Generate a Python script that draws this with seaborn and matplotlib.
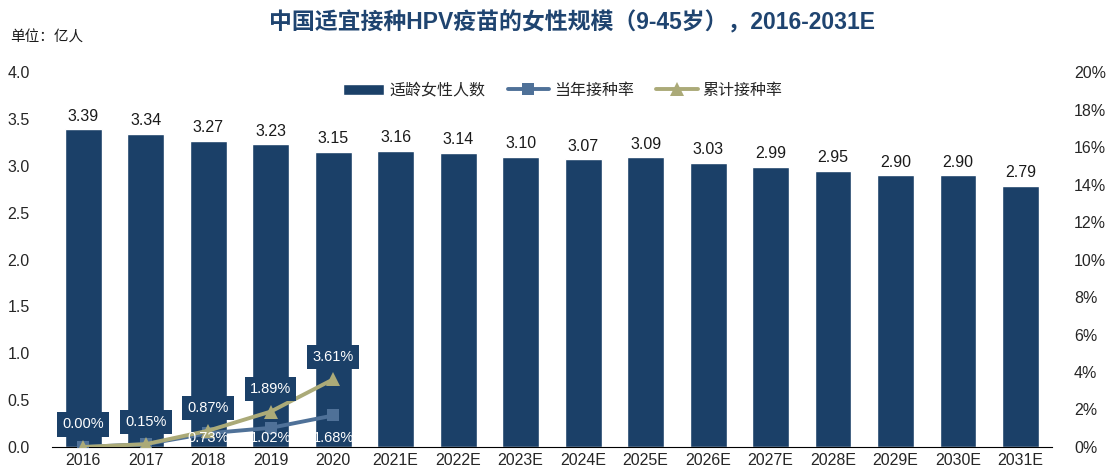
import pandas as pd
import matplotlib.pyplot as plt
import seaborn as sns

# Data
years = ['2016', '2017', '2018', '2019', '2020', '2021E', '2022E', '2023E', '2024E',
         '2025E', '2026E', '2027E', '2028E', '2029E', '2030E', '2031E']
women = [3.39, 3.34, 3.27, 3.23, 3.15, 3.16, 3.14, 3.10, 3.07, 3.09, 3.03, 2.99,
         2.95, 2.90, 2.90, 2.79]
rate_years = ['2016', '2017', '2018', '2019', '2020']
annual_rate = [0.00, 0.15, 0.73, 1.02, 1.68]
cum_rate = [0.00, 0.15, 0.87, 1.89, 3.61]

bar_color = '#1B4068'
annual_color = '#4F7198'
cum_color = '#ABAA78'

sns.set_style('white')
plt.rcParams['font.family'] = ['Liberation Sans', 'Noto Sans CJK SC']
plt.rcParams['axes.unicode_minus'] = False

df = pd.DataFrame({'year': years, 'women': women})
rates = pd.DataFrame({'year': rate_years, 'annual': annual_rate, 'cum': cum_rate})
rates['x'] = [years.index(y) for y in rate_years]

fig = plt.figure(figsize=(11.12, 4.75), dpi=100)
ax = fig.add_axes([0.0468, 0.059, 0.899, 0.789])

sns.barplot(data=df, x='year', y='women', color=bar_color, width=0.59,
            saturation=1, ax=ax, label='适龄女性人数')
if ax.get_legend():
    ax.get_legend().remove()
for i, v in enumerate(women):
    ax.text(i, v + 0.06, f'{v:.2f}', ha='center', va='bottom', fontsize=11.5, color='#1a1a1a')

ax.set_ylim(0, 4.0)
ax.set_yticks([i * 0.5 for i in range(9)])
ax.set_yticklabels([f'{i * 0.5:.1f}' for i in range(9)], fontsize=11.5)
ax.set_xlim(-0.5, len(years) - 0.5)
ax.set_xlabel('')
ax.set_ylabel('')
ax.tick_params(axis='x', length=0, labelsize=11.5, pad=4)
ax.tick_params(axis='y', length=0, labelsize=11.5, pad=16)
ax.set_xticks([i - 0.5 for i in range(len(years) + 1)], minor=True)
ax.tick_params(axis='x', which='minor', length=5, width=1, color='black', direction='out')
for s in ['top', 'right', 'left']:
    ax.spines[s].set_visible(False)
ax.spines['bottom'].set_color('black')

ax2 = ax.twinx()
sns.lineplot(data=rates, x='x', y='annual', ax=ax2, color=annual_color, marker='s',
             markersize=9, linewidth=2.8, label='当年接种率', markeredgewidth=0)
sns.lineplot(data=rates, x='x', y='cum', ax=ax2, color=cum_color, marker='^',
             markersize=10, linewidth=2.8, label='累计接种率', markeredgewidth=0)
ax2.set_ylim(0, 20)
ax2.set_yticks(range(0, 21, 2))
ax2.set_yticklabels([f'{t}%' for t in range(0, 21, 2)], fontsize=11.5)
ax2.tick_params(axis='y', length=0, pad=16)
ax2.set_ylabel('')
ax2.set_xlabel('')
for s in ['top', 'right', 'left', 'bottom']:
    ax2.spines[s].set_visible(False)
ax2.set_xlim(-0.5, len(years) - 0.5)

for i, (a, c) in enumerate(zip(annual_rate, cum_rate)):
    ax2.text(i, c + 1.2, f'{c:.2f}%', ha='center', va='center', fontsize=10.5, color='white',
             bbox=dict(boxstyle='square,pad=0.35', facecolor=bar_color, edgecolor='none'))
    if i >= 2:
        ax2.text(i, 0.5, f'{a:.2f}%', ha='center', va='center', fontsize=10.5, color='white')

# Legend
h1, l1 = ax.get_legend_handles_labels()
h2, l2 = ax2.get_legend_handles_labels()
if ax2.get_legend():
    ax2.get_legend().remove()
fig.legend(h1 + h2, l1 + l2, loc='center', bbox_to_anchor=(0.506, 0.81), ncol=3,
           frameon=False, fontsize=11.5, handlelength=2.6, columnspacing=1.4, handletextpad=0.3)

fig.text(0.514, 0.953, '中国适宜接种HPV疫苗的女性规模（9-45岁），2016-2031E', ha='center', va='center',
         fontsize=16.5, fontweight='bold', color='#1F4470')
fig.text(0.009, 0.92, '单位：亿人', ha='left', va='center', fontsize=10.5, color='#1a1a1a')

plt.savefig('out.png', dpi=100)
